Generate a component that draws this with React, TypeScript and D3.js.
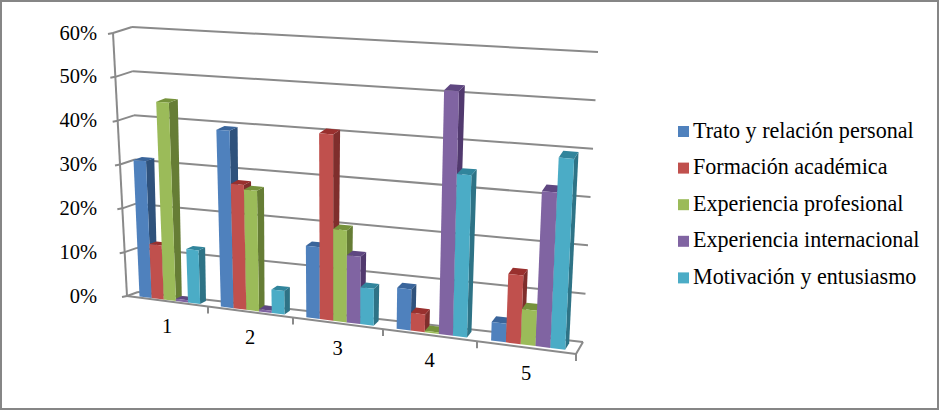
import React from "react";
import * as d3 from "d3";

const categories = ["1", "2", "3", "4", "5"];
const seriesNames = ["Trato y relación personal", "Formación académica", "Experiencia profesional", "Experiencia internacional", "Motivación y entusiasmo"];
const trato = [31, 39.5, 15.7, 8.8, 3.9];
const formacion = [12.2, 27.7, 40.6, 3.8, 14.4];
const experiencia = [44.7, 26.7, 20, 0.3, 7.4];
const internacional = [0.5, 0.5, 14.6, 52, 32.4];
const motivacion = [12, 5.2, 8, 34.4, 39.7];
const seriesValues = [trato, formacion, experiencia, internacional, motivacion];
const yTicks = [0, 10, 20, 30, 40, 50, 60];
const frontTickXs = [127, 208, 293, 383, 477, 576];
const colors = [
  { front: "#4f81bd", side: "#2f527c", top: "#3a659b" },
  { front: "#c0504d", side: "#7f2e2c", top: "#99302e" },
  { front: "#9bbb59", side: "#667d35", top: "#76923c" },
  { front: "#8064a2", side: "#51396e", top: "#5f4781" },
  { front: "#4bacc6", side: "#2e7386", top: "#31859c" },
];

type P = [number, number];
const FL0: P = [127, 296], FR0: P = [576, 354], BL0: P = [138, 292], BR0: P = [583, 342];
const FL1: P = [113, 33], FR1: P = [590, 65], BL1: P = [132, 27], BR1: P = [598, 52];

const uScale = d3.scaleLinear().domain(d3.range(6)).range(frontTickXs.map((x) => (x - 127) / (576 - 127)));
const vScale = d3.scaleLinear().domain([0, 60]).range([0, 1]);
const mix = (a: P, b: P, t: number): P => [a[0] + (b[0] - a[0]) * t, a[1] + (b[1] - a[1]) * t];
function project(u: number, d: number, value: number): P {
  const s = uScale(u), v = vScale(value);
  const bottom = mix(mix(FL0, FR0, s), mix(BL0, BR0, s), d);
  const top = mix(mix(FL1, FR1, s), mix(BL1, BR1, s), d);
  return mix(bottom, top, v);
}
const poly = (pts: P[]) => d3.line()(pts) + "Z";
const GROUP_GAP = 0.125, D0 = 0.22, D1 = 0.78;
const barW = (1 - 2 * GROUP_GAP) / 5;
const GRID = "#8a8a8a";

export default function App() {
  const lineOf = (a: P, b: P, k: string, w = 2) => (
    <line key={k} x1={a[0]} y1={a[1]} x2={b[0]} y2={b[1]} stroke={GRID} strokeWidth={w} />
  );
  return (
    <svg width={939} height={410} style={{ position: "absolute", left: 0, top: 0, fontFamily: "'Liberation Serif', serif" }}>
      <rect x={1} y={1} width={937} height={408} fill="#fff" stroke="#868686" strokeWidth={2} />
      {yTicks.map((t) => (
        <g key={t}>
          {t > 0 && lineOf(project(0, 1, t), project(5, 1, t), "b" + t)}
          {lineOf(project(0, 0, t), project(0, 1, t), "l" + t)}
          {lineOf(project(0, 0, t), [project(0, 0, t)[0] - 5, project(0, 0, t)[1] + 1], "t" + t)}
          <text x={97} y={project(0, 0, t)[1] + 6.5} textAnchor="end" fontSize={20.5}>{t}%</text>
        </g>
      ))}
      {lineOf(project(0, 0, 0), project(0, 0, 60), "axis")}
      {lineOf(project(0, 1, 0), project(5, 1, 0), "floorBack")}
      {lineOf(project(5, 0, 0), project(5, 1, 0), "floorRight")}
      {lineOf(project(0, 0, 0), project(5, 0, 0), "floorFront")}
      {categories.map((c, i) => {
        const p = project(i + 1, 0, 0);
        return (
          <g key={c}>
            {lineOf(p, [p[0], p[1] + 7], "x" + c)}
            <text x={project(i + 0.5, 0, 0)[0] - 0.5} y={project(i + 0.5, 0, 0)[1] + 32} textAnchor="middle" fontSize={20.5}>{c}</text>
          </g>
        );
      })}
      {categories.map((c, i) =>
        seriesValues.map((vals, s) => {
          const u0 = i + GROUP_GAP + s * barW, u1 = u0 + barW, v = vals[i], col = colors[s];
          const f00 = project(u0, D0, 0), f10 = project(u1, D0, 0), f01 = project(u0, D0, v), f11 = project(u1, D0, v);
          const b10 = project(u1, D1, 0), b01 = project(u0, D1, v), b11 = project(u1, D1, v);
          return (
            <g key={c + s}>
              <path d={poly([f10, b10, b11, f11])} fill={col.side} />
              <path d={poly([f01, f11, b11, b01])} fill={col.top} />
              <path d={poly([f00, f10, f11, f01])} fill={col.front} />
            </g>
          );
        })
      )}
      {seriesNames.map((n, i) => {
        const y = 131 + i * 36.6;
        return (
          <g key={n}>
            <rect x={678} y={y - 5} width={11} height={11} fill={colors[i].front} />
            <text x={693} y={y + 6.5} fontSize={22.1}>{n}</text>
          </g>
        );
      })}
    </svg>
  );
}
